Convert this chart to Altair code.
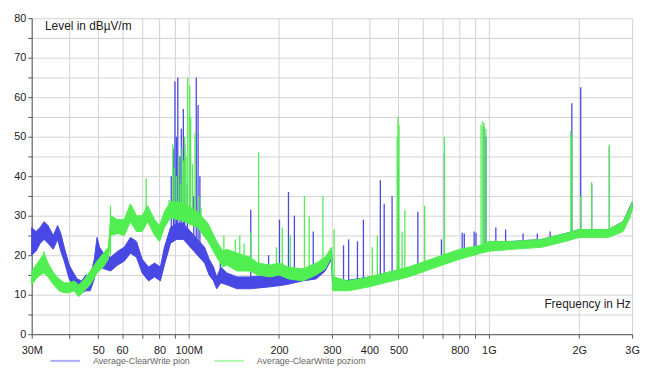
import altair as alt
import pandas as pd

BLUE = "#4848e4"
GREEN = "#50ee50"
S_PION = "Average-ClearWrite pion"
S_POZ = "Average-ClearWrite poziom"

# ---- envelope of the noisy average traces (frequency in MHz, level in dBµV/m)
pion_f = [30, 31, 32, 33, 34, 35.4, 36.6, 37.5, 38.5, 40, 41, 42.5, 44, 45.5, 47, 48.5, 49.5, 50.5,
          52.5, 55, 58, 61, 64, 67, 70, 73.5, 77, 80.5, 83, 87, 91, 96, 100, 107, 113, 117, 121,
          124, 128, 134, 145, 160, 187, 210, 240, 266, 285, 299, 302, 330, 400, 500, 600, 700,
          800, 940, 1000, 1200, 1500, 1800, 2000, 2500, 2800, 3000]
pion_lo = [20, 21, 23, 24, 23, 21.5, 24, 21, 18.5, 14, 12.5, 10.5, 10.5, 11, 11, 14, 18, 17,
           16.5, 16, 17.5, 18.5, 20.5, 19.5, 15.5, 13.5, 14.5, 13.5, 17.5, 23, 24, 24, 22.5, 20, 18, 15, 13.5,
           11.5, 13, 12.5, 11.5, 11.5, 12, 12.5, 13.5, 14, 16, 19, 11.5, 11.5, 12.5, 14, 16, 18,
           19.5, 21, 21.5, 22, 22.5, 23.8, 24.8, 24.8, 26.3, 31.8]
pion_hi = [27, 26, 27, 28.5, 27.5, 25, 27.5, 25.5, 22, 17.5, 16, 14, 13.5, 15, 14.5, 19, 24.5, 22,
           20, 19.5, 21, 22, 24.5, 23.5, 19, 17, 18, 17, 22, 27, 28, 28, 26.5, 24, 22, 19, 17,
           14.5, 17, 15.5, 14.5, 14.5, 15, 15.5, 16.5, 17, 18.5, 21.5, 14.5, 13.5, 14.5, 15.5, 17, 19.8,
           21.2, 22.3, 23.3, 23.5, 24, 25.5, 26.5, 26.5, 28.5, 33.5]

poz_f = [30, 31, 32, 33, 34, 35.5, 37, 38.5, 40, 41.5, 43, 45, 47, 49.5, 52, 54, 55, 58, 61, 64,
         67, 70, 73, 77, 80, 83, 87, 92, 97, 107, 116, 124, 130, 134, 145, 160, 170, 187, 200,
         215, 240, 266, 285, 299, 302, 340, 400, 450, 540, 700, 800, 940, 1000, 1200, 1500,
         1800, 2000, 2500, 2800, 2950, 3000]
poz_lo = [12.5, 14, 15, 15.5, 14.5, 12.5, 11, 10.5, 10.5, 11, 9.5, 11, 12.5, 15.5, 17, 19, 25, 25.5, 25, 28.5,
          26, 26, 28.5, 25, 23.5, 27, 29.5, 29, 28.5, 27, 23.5, 19.5, 17, 17.5, 16, 16, 15, 14.5, 15,
          14, 13.5, 15, 16.5, 19.5, 11, 11, 12, 13, 14.5, 17.5, 19, 20.5, 21, 21.5, 22,
          23.5, 24.5, 24.5, 26, 29.5, 31.5]
poz_hi = [16, 17.5, 19, 20.5, 18, 15.5, 14, 13, 13, 13.5, 12.5, 14, 16, 18.5, 20.5, 22, 30, 29, 29, 33,
          30, 30, 32.5, 29, 27.5, 31, 33.5, 33.5, 33, 31, 28, 23.5, 21, 21.5, 20.5, 19.5, 18, 17.5, 18,
          17, 16.5, 18, 19.5, 22, 14.5, 13.5, 14.5, 15.5, 17, 20, 21.5, 22.5, 23.5, 23.5, 24,
          25.5, 26.5, 26.5, 28.5, 32, 33.5]

# ---- narrow-band emissions (frequency MHz, peak level, foot level)
pion_spk_f = [87.5, 89, 90, 91, 92, 93.5, 94.5, 96, 97, 99, 104, 106, 107.5, 109, 127.5, 161, 184.6,
              200.7, 215, 225, 260, 328, 341, 365, 382, 435, 448, 476, 498, 580, 695, 711, 815,
              828, 893, 906, 963, 978, 1055, 1137, 1300, 1450, 1600, 1890, 2023, 2200, 2520]
pion_spk_top = [40, 47, 64, 50, 65, 45, 52, 57, 48, 38, 35, 65, 58, 40, 22, 31.5, 20,
                29, 36, 30, 26, 22.5, 24, 23.5, 29, 39, 33, 35, 42.5, 31, 24, 46, 25.7,
                25.5, 26, 25.7, 52.5, 50, 27, 26.5, 25.5, 25.5, 26, 58.5, 62.5, 38, 47.5]
pion_spk_base = [24, 24, 25, 25, 25, 25, 25, 25, 25, 24, 23, 22, 22, 21, 14, 13, 13,
                 13, 14, 14, 15, 13, 13, 13, 13, 14, 14, 15, 15, 16, 18, 18, 19.5,
                 19.5, 20.5, 20.5, 21, 21, 22, 22, 22.5, 23, 23.5, 24, 24.5, 25, 25]

poz_spk_f = [33, 54.9, 72.2, 86, 88.6, 89.5, 91, 92.5, 94, 95, 96, 97, 98, 99.3, 100.8, 101.5, 103,
             105, 108, 110, 131, 143, 148, 153, 161, 171, 196, 205, 218, 243, 252, 280, 305,
             409, 425, 495, 498, 502, 514, 525, 611, 711, 942, 955, 963, 978, 1875, 1890, 2023,
             2200, 2520]
poz_spk_top = [21, 32.5, 39.5, 34, 48, 42, 40, 45, 38, 47, 44, 50, 45, 65, 63, 55, 43,
               51, 35, 32, 25, 24, 25, 23, 26, 46, 22, 27, 25, 35, 30, 35, 26.5,
               22, 25, 50, 55, 53, 26, 31.5, 32.5, 50, 53, 54, 53.5, 52, 51.5, 50, 35,
               38.5, 48]
poz_spk_base = [16, 20, 30, 30, 30, 30, 30, 30, 30, 30, 30, 30, 30, 30, 30, 30, 29,
                29, 28, 27, 18, 18, 18, 17, 17, 16, 16, 16, 15, 15, 15, 17, 13,
                14, 14, 15, 15, 15, 15, 16, 17, 19, 21, 21, 21, 21, 24, 24, 25,
                25, 25]

x_ticks = [30, 40, 50, 60, 70, 80, 90, 100, 200, 300, 400, 500, 600, 700, 800, 900, 1000, 2000, 3000]
x_tick_labels = {30: "30M", 50: "50", 60: "60", 80: "80", 100: "100M", 200: "200", 300: "300",
                 400: "400", 500: "500", 800: "800", 1000: "1G", 2000: "2G", 3000: "3G"}
y_ticks = list(range(0, 85, 5))

# ---- tables
band = pd.concat([
    pd.DataFrame({"f": pion_f, "lo": pion_lo, "hi": pion_hi, "series": S_PION}),
    pd.DataFrame({"f": poz_f, "lo": poz_lo, "hi": poz_hi, "series": S_POZ}),
])
spikes = pd.concat([
    pd.DataFrame({"f": pion_spk_f, "top": pion_spk_top, "base": pion_spk_base, "series": S_PION}),
    pd.DataFrame({"f": poz_spk_f, "top": poz_spk_top, "base": poz_spk_base, "series": S_POZ}),
])

label_expr = "''"
for v, t in reversed(list(x_tick_labels.items())):
    label_expr = f"abs(datum.value - {v}) < 0.01 ? '{t}' : ({label_expr})"

FONT = "Liberation Sans"

xscale = alt.Scale(type="log", domain=[30, 3000], nice=False)
yscale = alt.Scale(domain=[0, 80], nice=False)
cscale = alt.Scale(domain=[S_PION, S_POZ], range=[BLUE, GREEN])
color = alt.Color(
    "series:N",
    scale=cscale,
    legend=alt.Legend(
        title=None, orient="none", direction="horizontal", legendX=18, legendY=331,
        symbolType="stroke", symbolSize=900, symbolStrokeWidth=2, symbolOpacity=0.45,
        labelFontSize=9, labelColor="#666666", labelFont=FONT, labelOffset=12,
        columnPadding=20,
    ),
)

x_axis = alt.Axis(
    values=x_ticks, labelExpr=label_expr, labelOverlap=False, grid=True, gridColor="#d2d2d2",
    gridWidth=1, domainColor="#555555", tickColor="#555555", tickSize=4, labelPadding=7,
    labelFont=FONT, labelFontSize=11, labelColor="#222222", labelFlush=False,
    title="Frequency in Hz", titleFont=FONT, titleFontSize=12, titleFontWeight="normal",
    titleColor="#222222", titleAngle=0, titleAlign="right", titleBaseline="alphabetic",
    titleX=606, titleY=-27,
)
y_axis = alt.Axis(
    values=y_ticks, labelExpr="datum.value % 10 == 0 ? datum.value : ''", labelOverlap=False,
    grid=True, gridColor="#d2d2d2", gridWidth=1, domainColor="#555555", tickColor="#555555",
    tickSize=4, labelPadding=2, labelFont=FONT, labelFontSize=11, labelColor="#222222",
    labelFlush=False,
    title="Level in dBµV/m", titleFont=FONT, titleFontSize=12, titleFontWeight="normal",
    titleColor="#222222", titleAngle=0, titleAlign="left", titleBaseline="alphabetic",
    titleX=13, titleY=11,
)

def band_layer(name):
    return alt.Chart(band[band.series == name]).mark_area(
        interpolate="linear", opacity=1, strokeWidth=1
    ).encode(
        x=alt.X("f:Q", scale=xscale, axis=x_axis),
        y=alt.Y("lo:Q", scale=yscale, axis=y_axis),
        y2="hi:Q",
        color=color,
        stroke=alt.Color("series:N", scale=cscale, legend=None),
    )

def spike_layer(name):
    return alt.Chart(spikes[spikes.series == name]).mark_rule(strokeWidth=1.3).encode(
        x=alt.X("f:Q", scale=xscale, axis=x_axis),
        y=alt.Y("top:Q", scale=yscale, axis=y_axis),
        y2="base:Q",
        color=color,
    )

chart = alt.layer(
    band_layer(S_PION), spike_layer(S_PION), band_layer(S_POZ), spike_layer(S_POZ)
).properties(
    width=608, height=320,
    autosize=alt.AutoSizeParams(type="none"),
    padding={"left": 24, "top": 8, "right": 8, "bottom": 40},
    background="white",
).configure_view(stroke=None)

chart.save("out.html", embed_options={"renderer": "svg", "actions": False})
